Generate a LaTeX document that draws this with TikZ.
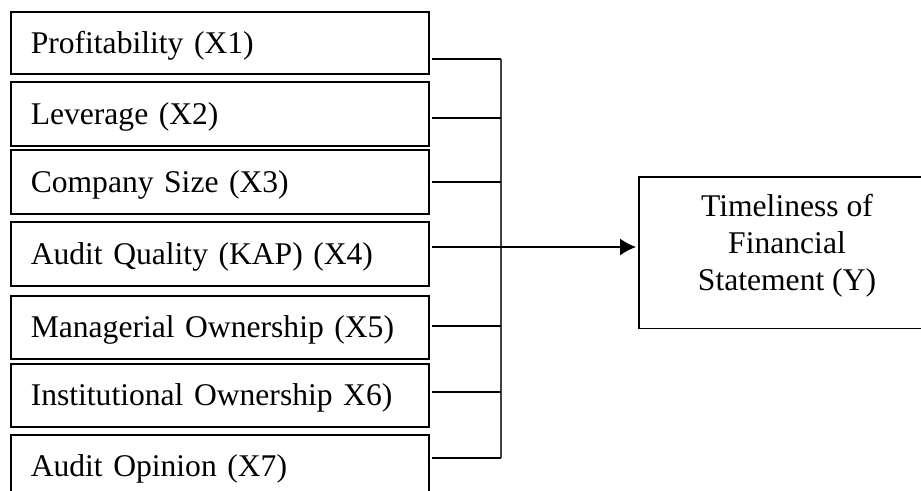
\documentclass[tikz,border=0pt]{standalone}
\usepackage{fontspec}
\setmainfont{Liberation Serif}
\usetikzlibrary{arrows.meta}
\begin{document}
\begin{tikzpicture}[x=1pt,y=-1pt,
  every node/.style={font=\fontsize{31.6}{37}\selectfont},
  xbox/.style={draw, line width=1.5pt, anchor=north west, text width=378pt, inner xsep=20pt, inner ysep=0pt, align=left, minimum height=#1, text height=21pt, text depth=0pt},
  ybox/.style={anchor=north west, minimum width=282pt, minimum height=151pt, inner sep=0pt},
  frame/.style={line width=1.5pt},
  link/.style={line width=1.4pt},
  bus/.style={line width=1.8pt, draw=black!75}
]
\useasboundingbox (0,0) rectangle (921,490);

\node[xbox=62pt] (b1) at (10,11) {Profitability (X1)};
\node[xbox=64pt] (b2) at (10,81) {Leverage (X2)};
\node[xbox=64pt] (b3) at (10,149) {Company Size (X3)};
\node[xbox=64pt] (b4) at (10,221) {Audit Quality (KAP) (X4)};
\node[xbox=63pt] (b5) at (10,295) {Managerial Ownership (X5)};
\node[xbox=63pt] (b6) at (10,363) {Institutional Ownership X6)};
\node[xbox=63pt] (b7) at (10,434) {Audit Opinion (X7)};

\node[ybox] (y) at (639,177) {};
\draw[frame] (y.north east) -- (y.north west) -- (y.south west) -- (y.south east);
\node[align=center, inner sep=0pt, anchor=north] (yt) at (787,194.3) {Timeliness of\\Financial\\Statement (Y)};

\coordinate (j1) at (501,59);
\coordinate (j2) at (501,118);
\coordinate (j3) at (501,182);
\coordinate (j4) at (501,247);
\coordinate (j5) at (501,326);
\coordinate (j6) at (501,392);
\coordinate (j7) at (501,458);

\draw[bus] (j1) -- (j7);
\foreach \i in {1,...,7} {
  \draw[link] ([xshift=2pt]j\i -| b\i.east) -- (j\i);
}
\draw[link, -{Latex[length=16pt,width=17pt]}, shorten >=3pt] (j4) -- (j4 -| y.west);
\end{tikzpicture}
\end{document}
